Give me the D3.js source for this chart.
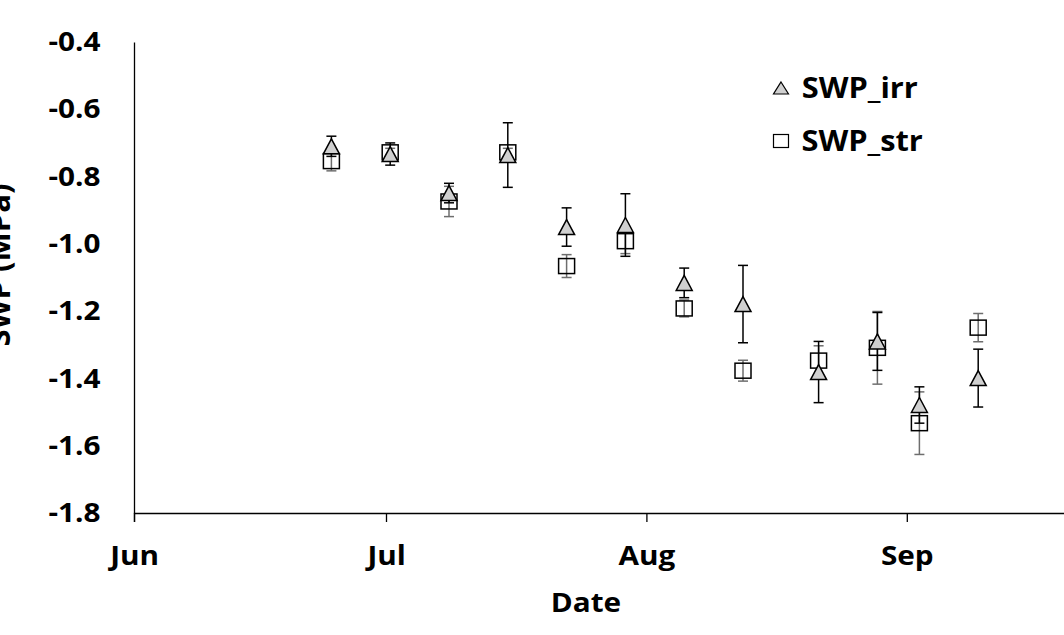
<!DOCTYPE html>
<html>
<head>
<meta charset="utf-8">
<script src="https://cdn.jsdelivr.net/npm/d3@7"></script>
<style>
    body { margin: 0; background: #fff; }
    svg { display: block; font-family: "Open Sans", sans-serif; font-weight: bold; }
    .wide { transform-box: fill-box; transform-origin: center; transform: scaleX(1.1); }
</style>
</head>
<body>
<div id="visualization-container"></div>
<script>
// sample dates and stem water potential (MPa), mean and error bar half-length
const dates = ["2019-06-24", "2019-07-01", "2019-07-08", "2019-07-15", "2019-07-22", "2019-07-29",
    "2019-08-05", "2019-08-12", "2019-08-21", "2019-08-28", "2019-09-02", "2019-09-09"];
const irrMean = [-0.71, -0.733, -0.849, -0.736, -0.95, -0.944, -1.116, -1.179, -1.381, -1.29, -1.479, -1.399];
const irrErr = [0.03, 0.033, 0.029, 0.096, 0.057, 0.093, 0.044, 0.115, 0.091, 0.086, 0.054, 0.086];
const strMean = [-0.754, -0.728, -0.874, -0.728, -1.066, -0.992, -1.192, -1.377, -1.347, -1.309, -1.533, -1.249];
const strErr = [0.029, 0.012, 0.045, 0.012, 0.034, 0.037, 0.025, 0.031, 0.044, 0.108, 0.093, 0.042];
const yTicks = [-0.4, -0.6, -0.8, -1.0, -1.2, -1.4, -1.6, -1.8];
const monthTicks = ["2019-06-01", "2019-07-01", "2019-08-01", "2019-09-01", "2019-10-01"];
const seriesNames = ["SWP_irr", "SWP_str"];

function createChart() {
    const width = 1064;
    const height = 635;
    var margin = {top: 42, left: 134, bottom: 122};

    const parse = d3.timeParse("%Y-%m-%d");
    const monthDates = monthTicks.map(parse);

    // axis runs on to October, past the right edge of the picture
    const x = d3.scaleTime()
        .domain([monthDates[0], monthDates[monthDates.length - 1]])
        .range([margin.left, margin.left + 122 * 8.4]);

    const y = d3.scaleLinear()
        .domain([-1.8, -0.4])
        .range([height - margin.bottom, margin.top]);

    const svg = d3.select("#visualization-container")
        .append("svg")
        .attr("width", width)
        .attr("height", height);

    // points sit in the middle of their day, like a date axis in a spreadsheet
    const xDay = d => x(d3.timeHour.offset(parse(d), 12));

    const points = dates.map((d, i) => ({
        date: d,
        irr: irrMean[i], irrE: irrErr[i],
        str: strMean[i], strE: strErr[i]
    }));

    // axes
    const xAxis = svg.append("g")
        .attr("transform", "translate(0," + y(-1.8) + ")")
        .call(d3.axisBottom(x)
            .tickValues(monthDates.slice(0, 4))
            .tickFormat(d3.timeFormat("%b"))
            .tickSizeOuter(0)
            .tickSize(9)
            .tickPadding(24));
    xAxis.select(".domain").attr("stroke", "#000").attr("stroke-width", 1.3);
    xAxis.selectAll(".tick line").attr("stroke", "#000").attr("stroke-width", 1.3);
    xAxis.selectAll(".tick text")
        .attr("class", "wide")
        .attr("fill", "#000")
        .style("font-size", "27px")
        .style("font-family", "'Open Sans', sans-serif");

    const yAxis = svg.append("g")
        .attr("transform", "translate(" + margin.left + ",0)")
        .call(d3.axisLeft(y)
            .tickValues(yTicks)
            .tickFormat(d3.format(".1f"))
            .tickSizeOuter(0)
            .tickSize(0)
            .tickPadding(36));
    yAxis.select(".domain").attr("stroke", "#000").attr("stroke-width", 1.3);
    yAxis.selectAll(".tick text")
        .attr("class", "wide")
        .attr("fill", "#000")
        .style("font-size", "27px")
        .style("font-family", "'Open Sans', sans-serif")
        .text(d => d3.format(".1f")(d).replace("−", "-"));

    svg.append("text")
        .attr("class", "wide")
        .attr("x", 586)
        .attr("y", 612)
        .attr("text-anchor", "middle")
        .style("font-size", "27px")
        .text("Date");

    svg.append("text")
        .attr("transform", "translate(10,265) rotate(-90)")
        .attr("text-anchor", "middle")
        .style("font-size", "31px")
        .text("SWP (MPa)");

    const triPath = (w, h) => "M0," + (-h / 2) + "L" + (w / 2) + "," + (h / 2) + "L" + (-w / 2) + "," + (h / 2) + "Z";

    function errorBars(key, errKey, color) {
        const g = svg.append("g")
            .attr("stroke", color)
            .attr("stroke-width", 1.5)
            .selectAll("g")
            .data(points)
            .join("g")
            .attr("transform", d => "translate(" + xDay(d.date) + ",0)");
        g.append("line")
            .attr("y1", d => y(d[key] + d[errKey]))
            .attr("y2", d => y(d[key] - d[errKey]));
        g.append("line")
            .attr("x1", -5).attr("x2", 5)
            .attr("y1", d => y(d[key] + d[errKey]))
            .attr("y2", d => y(d[key] + d[errKey]));
        g.append("line")
            .attr("x1", -5).attr("x2", 5)
            .attr("y1", d => y(d[key] - d[errKey]))
            .attr("y2", d => y(d[key] - d[errKey]));
    }

    // SWP_str: open squares with grey error bars
    errorBars("str", "strE", "#6e6e6e");
    svg.append("g")
        .selectAll("rect")
        .data(points)
        .join("rect")
        .attr("x", d => xDay(d.date) - 8)
        .attr("y", d => y(d.str) - 7.5)
        .attr("width", 16)
        .attr("height", 15)
        .attr("fill", "none")
        .attr("stroke", "#000")
        .attr("stroke-width", 1.5);

    // SWP_irr: grey triangles with black error bars
    errorBars("irr", "irrE", "#000");
    svg.append("g")
        .selectAll("path")
        .data(points)
        .join("path")
        .attr("transform", d => "translate(" + xDay(d.date) + "," + y(d.irr) + ")")
        .attr("d", triPath(16, 15))
        .attr("fill", "#d0d0d0")
        .attr("stroke", "#000")
        .attr("stroke-width", 1.5);

    // legend
    const legend = svg.append("g")
        .attr("transform", "translate(781,0)");
    const rows = legend.selectAll("g")
        .data(seriesNames)
        .join("g")
        .attr("transform", (d, i) => "translate(0," + (88 + i * 53) + ")");
    rows.filter((d, i) => i === 0).append("path")
        .attr("d", triPath(15, 12))
        .attr("fill", "#d0d0d0")
        .attr("stroke", "#000")
        .attr("stroke-width", 1.2);
    rows.filter((d, i) => i === 1).append("rect")
        .attr("x", -7.5).attr("y", -6.5)
        .attr("width", 15).attr("height", 13)
        .attr("fill", "#fff")
        .attr("stroke", "#000")
        .attr("stroke-width", 1.2);
    rows.append("text")
        .attr("class", "wide")
        .attr("x", 26)
        .attr("y", 10)
        .style("font-size", "28px")
        .text(d => d);
}

createChart();
</script>
</body>
</html>
